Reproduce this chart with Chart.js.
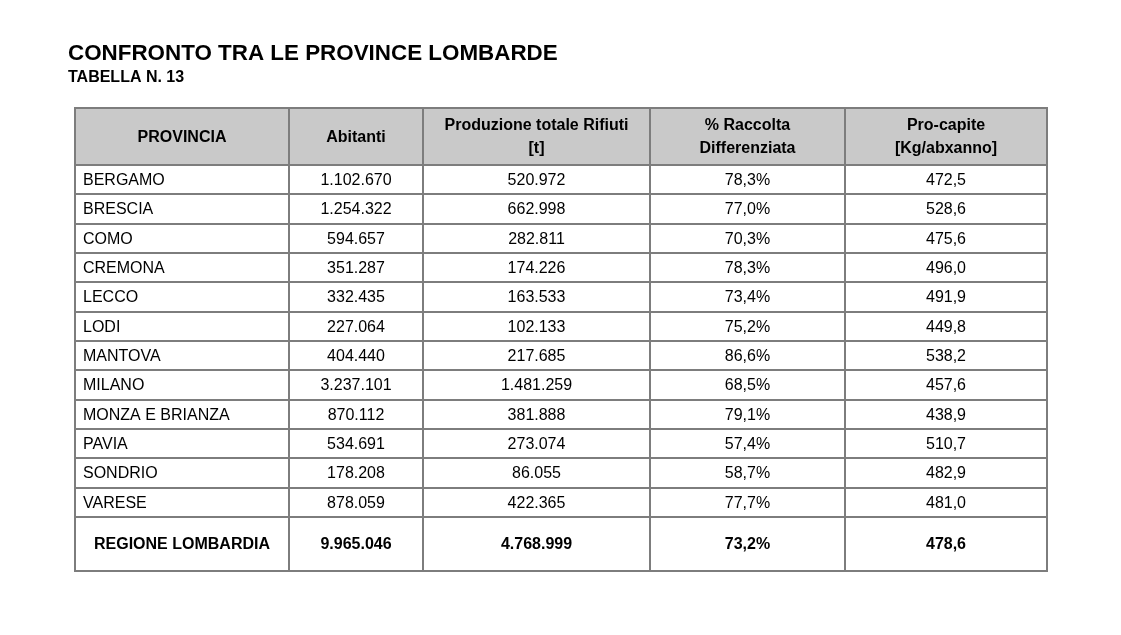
<!DOCTYPE html>
<html>
<head>
<meta charset="utf-8">
<script src="https://cdn.jsdelivr.net/npm/chart.js@4"></script>
<style>
  html, body { margin: 0; padding: 0; background: #fff; }
</style>
</head>
<body>
<canvas id="tableChart" width="1121" height="635"></canvas>
<script>
// data
const title = 'CONFRONTO TRA LE PROVINCE LOMBARDE';
const subtitle = 'TABELLA N. 13';
const headers = [['PROVINCIA'], ['Abitanti'], ['Produzione totale Rifiuti', '[t]'], ['% Raccolta', 'Differenziata'], ['Pro-capite', '[Kg/abxanno]']];
const province = ['BERGAMO', 'BRESCIA', 'COMO', 'CREMONA', 'LECCO', 'LODI', 'MANTOVA', 'MILANO', 'MONZA E BRIANZA', 'PAVIA', 'SONDRIO', 'VARESE'];
const abitanti = [1102670, 1254322, 594657, 351287, 332435, 227064, 404440, 3237101, 870112, 534691, 178208, 878059];
const produzione = [520972, 662998, 282811, 174226, 163533, 102133, 217685, 1481259, 381888, 273074, 86055, 422365];
const raccolta = [78.3, 77.0, 70.3, 78.3, 73.4, 75.2, 86.6, 68.5, 79.1, 57.4, 58.7, 77.7];
const proCapite = [472.5, 528.6, 475.6, 496.0, 491.9, 449.8, 538.2, 457.6, 438.9, 510.7, 482.9, 481.0];
const totaleLabel = 'REGIONE LOMBARDIA';
const totale = [9965046, 4768999, 73.2, 478.6];

// layout
const colWidths = [214, 134, 227, 195, 202];
const headerHeight = 57, rowHeight = 29.33, totalHeight = 54;
const FONT = '"Liberation Sans", Arial, sans-serif';

const fmtInt = n => String(n).replace(/\B(?=(\d{3})+(?!\d))/g, '.');
const fmtDec = n => n.toFixed(1).replace('.', ',');

const colEdges = [0];
colWidths.forEach(w => colEdges.push(colEdges[colEdges.length - 1] + w));
const rowEdges = [0, headerHeight];
province.forEach(() => rowEdges.push(rowEdges[rowEdges.length - 1] + rowHeight));
rowEdges.push(rowEdges[rowEdges.length - 1] + totalHeight);

const tablePlugin = {
  id: 'tablePlugin',
  afterDraw(chart) {
    const ctx = chart.ctx;
    const x = chart.scales.x, y = chart.scales.y;
    const px = v => x.getPixelForValue(v);
    const py = v => y.getPixelForValue(v);
    const left = px(0), right = px(colEdges[colEdges.length - 1]);
    const top = py(0), bottom = py(rowEdges[rowEdges.length - 1]);

    ctx.save();
    // titles
    ctx.fillStyle = '#000';
    ctx.textAlign = 'left';
    ctx.textBaseline = 'alphabetic';
    ctx.font = `bold 22.4px ${FONT}`;
    ctx.fillText(title, 68, 60);
    ctx.font = `bold 16px ${FONT}`;
    ctx.fillText(subtitle, 68, 82);

    // header background
    ctx.fillStyle = '#c9c9c9';
    ctx.fillRect(left, top, right - left, py(rowEdges[1]) - top);

    // grid
    ctx.strokeStyle = '#7d7d7d';
    ctx.lineWidth = 2;
    ctx.beginPath();
    rowEdges.forEach(r => { ctx.moveTo(left - 1, Math.round(py(r))); ctx.lineTo(right + 1, Math.round(py(r))); });
    colEdges.forEach(c => { ctx.moveTo(Math.round(px(c)), top); ctx.lineTo(Math.round(px(c)), bottom); });
    ctx.stroke();

    const colMid = i => (px(colEdges[i]) + px(colEdges[i + 1])) / 2;
    const rowMid = i => (py(rowEdges[i]) + py(rowEdges[i + 1])) / 2;

    ctx.fillStyle = '#000';
    ctx.textBaseline = 'middle';

    // header
    ctx.font = `bold 16px ${FONT}`;
    ctx.textAlign = 'center';
    headers.forEach((lines, i) => {
      const lh = 23;
      const y0 = rowMid(0) + 1 - (lines.length - 1) * lh / 2;
      lines.forEach((t, k) => ctx.fillText(t, colMid(i), y0 + k * lh));
    });

    // body
    ctx.font = `16px ${FONT}`;
    province.forEach((p, r) => {
      const cy = rowMid(r + 1) + 1;
      ctx.textAlign = 'left';
      ctx.fillText(p, px(colEdges[0]) + 8, cy);
      ctx.textAlign = 'center';
      ctx.fillText(fmtInt(abitanti[r]), colMid(1), cy);
      ctx.fillText(fmtInt(produzione[r]), colMid(2), cy);
      ctx.fillText(fmtDec(raccolta[r]) + '%', colMid(3), cy);
      ctx.fillText(fmtDec(proCapite[r]), colMid(4), cy);
    });

    // total
    const ty = rowMid(province.length + 1) + 1;
    ctx.font = `bold 16px ${FONT}`;
    ctx.textAlign = 'center';
    ctx.fillText(totaleLabel, colMid(0), ty);
    ctx.fillText(fmtInt(totale[0]), colMid(1), ty);
    ctx.fillText(fmtInt(totale[1]), colMid(2), ty);
    ctx.fillText(fmtDec(totale[2]) + '%', colMid(3), ty);
    ctx.fillText(fmtDec(totale[3]), colMid(4), ty);
    ctx.restore();
  }
};

new Chart(document.getElementById('tableChart').getContext('2d'), {
  type: 'scatter',
  data: { datasets: [] },
  options: {
    responsive: false,
    animation: false,
    layout: { padding: { left: 75, right: 74, top: 108, bottom: 64 } },
    plugins: { legend: { display: false }, tooltip: { enabled: false } },
    scales: {
      x: { type: 'linear', display: false, min: 0, max: colEdges[colEdges.length - 1] },
      y: { type: 'linear', display: false, reverse: true, min: 0, max: rowEdges[rowEdges.length - 1] }
    }
  },
  plugins: [tablePlugin]
});
</script>
</body>
</html>
